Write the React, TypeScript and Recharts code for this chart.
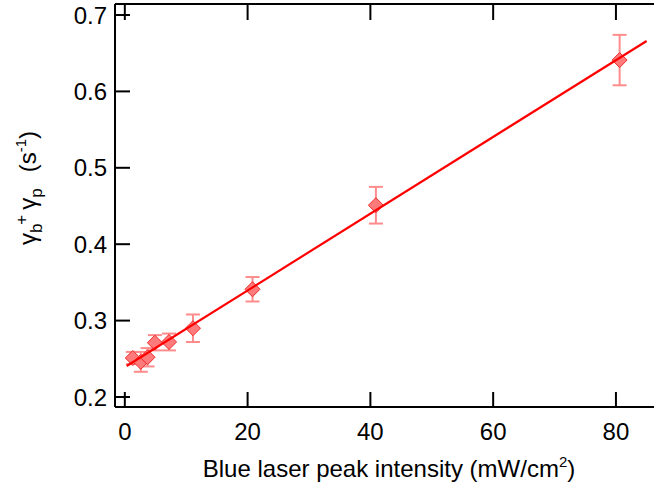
import { ScatterChart, Scatter, XAxis, YAxis, ErrorBar } from "recharts";

// measured points (blue laser intensity vs total rate)
const INTENSITY = [1.3, 2.6, 3.7, 4.9, 7.2, 11.1, 20.8, 40.9, 80.6];
const RATE = [0.251, 0.246, 0.252, 0.271, 0.272, 0.29, 0.341, 0.451, 0.641];
const RATE_ERR = [0.008, 0.013, 0.012, 0.01, 0.011, 0.018, 0.016, 0.024, 0.033];

// linear fit endpoints
const FIT_X = [0.3, 85];
const FIT_Y = [0.2405, 0.666];

const X_TICKS = [0, 20, 40, 60, 80];
const Y_TICKS = [0.2, 0.3, 0.4, 0.5, 0.6, 0.7];

const points = INTENSITY.map((x, i) => ({ x, y: RATE[i], err: RATE_ERR[i] }));
const fit = FIT_X.map((x, i) => ({ x, y: FIT_Y[i] }));

const FONT = "'Liberation Sans', Arial, sans-serif";
const AXIS = { stroke: "#000", strokeWidth: 2 };

const LeftTick = ({ x, y, payload }: any) => (
  <g>
    <line x1={x} x2={x + 15} y1={y} y2={y} stroke="#000" strokeWidth={2} />
    <text x={x - 8} y={y} dy="0.36em" textAnchor="end" fontSize={24} fontFamily={FONT} fill="#000">
      {Number(payload.value).toFixed(1)}
    </text>
  </g>
);

const RightTick = ({ x, y }: any) => (
  <line x1={x - 14} x2={x} y1={y} y2={y} stroke="#000" strokeWidth={2} />
);

const BottomTick = ({ x, y, payload }: any) => (
  <g>
    <line x1={x} x2={x} y1={y} y2={y - 15} stroke="#000" strokeWidth={2} />
    <text x={x} y={y + 33} textAnchor="middle" fontSize={24} fontFamily={FONT} fill="#000">
      {payload.value}
    </text>
  </g>
);

const TopTick = ({ x, y }: any) => (
  <line x1={x} x2={x} y1={y} y2={y + 16} stroke="#000" strokeWidth={2} />
);

const Diamond = ({ cx, cy }: any) => (
  <path
    d={`M${cx},${cy - 7.5}L${cx + 7.5},${cy}L${cx},${cy + 7.5}L${cx - 7.5},${cy}Z`}
    fill="#ff7a7a"
    stroke="#f02a2a"
    strokeWidth={1}
  />
);

const YTitle = () => (
  <text
    x={36}
    y={188}
    transform="rotate(-90, 36, 188)"
    textAnchor="middle"
    fontSize={24}
    fontFamily={FONT}
    fill="#000"
  >
    γ<tspan dy={6} fontSize={17}>b</tspan>
    <tspan dy={-15} dx={-1} fontSize={17}>+</tspan>
    <tspan dy={9} dx={5}>γ</tspan>
    <tspan dy={6} fontSize={17}>p</tspan>
    <tspan dy={-6} dx={16}>(s</tspan>
    <tspan dy={-10} fontSize={15}>-1</tspan>
    <tspan dy={10}>)</tspan>
  </text>
);

export default function App() {
  return (
    <div style={{ position: "absolute", left: 0, top: 0, background: "#fff" }}>
      <ScatterChart width={654} height={487} margin={{ top: 0, right: 0, bottom: 0, left: 0 }}>
        <XAxis
          xAxisId="b"
          type="number"
          dataKey="x"
          domain={[-1.6, 86.2]}
          allowDataOverflow
          ticks={X_TICKS}
          interval={0}
          height={80}
          tickSize={0}
          tickMargin={0}
          axisLine={AXIS}
          tickLine={false}
          tick={BottomTick}
          label={{
            value: "",
            content: () => (
              <text x={389} y={477} textAnchor="middle" fontSize={24} fontFamily={FONT} fill="#000">
                Blue laser peak intensity (mW/cm<tspan dy={-10} fontSize={15}>2</tspan>
                <tspan dy={10}>)</tspan>
              </text>
            ),
          }}
        />
        <XAxis
          xAxisId="t"
          orientation="top"
          type="number"
          dataKey="x"
          domain={[-1.6, 86.2]}
          allowDataOverflow
          ticks={X_TICKS}
          interval={0}
          height={4}
          tickSize={0}
          tickMargin={0}
          axisLine={AXIS}
          tickLine={false}
          tick={TopTick}
        />
        <YAxis
          yAxisId="l"
          type="number"
          dataKey="y"
          domain={[0.1869, 0.7144]}
          allowDataOverflow
          ticks={Y_TICKS}
          interval={0}
          width={115}
          tickSize={0}
          tickMargin={0}
          axisLine={AXIS}
          tickLine={false}
          tick={LeftTick}
          label={{ value: "", content: () => <YTitle /> }}
        />
        <YAxis
          yAxisId="r"
          orientation="right"
          type="number"
          dataKey="y"
          domain={[0.1869, 0.7144]}
          allowDataOverflow
          ticks={Y_TICKS}
          interval={0}
          width={0}
          tickSize={0}
          tickMargin={0}
          axisLine={false}
          tickLine={false}
          tick={RightTick}
        />
        <Scatter
          data={points}
          xAxisId="b"
          yAxisId="l"
          shape={Diamond}
          isAnimationActive={false}
        >
          <ErrorBar dataKey="err" direction="y" width={7} stroke="#ff8c8c" strokeWidth={2} />
        </Scatter>
        <Scatter
          data={fit}
          xAxisId="b"
          yAxisId="l"
          line={{ stroke: "#ff0000", strokeWidth: 2.2 }}
          shape={() => <g />}
          isAnimationActive={false}
        />
      </ScatterChart>
    </div>
  );
}
